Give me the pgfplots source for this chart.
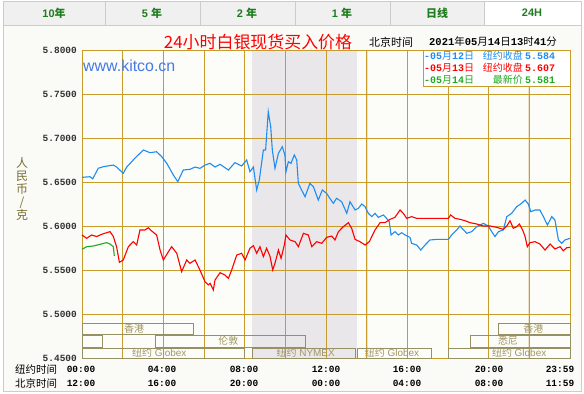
\documentclass[border=0pt]{standalone}
\usepackage{pgfplots}
\pgfplotsset{compat=1.18}
\usepackage{fontspec}
\setmainfont{Liberation Sans}
\newfontfamily\cjk{Noto Sans CJK SC}
\newfontfamily\mono{Liberation Mono}
\definecolor{gridc}{RGB}{200,155,45}
\definecolor{bl}{RGB}{30,140,240}
\definecolor{rd}{RGB}{255,0,0}
\definecolor{gr}{RGB}{30,170,30}
\definecolor{shadec}{RGB}{234,231,235}
\definecolor{sess}{RGB}{150,145,100}
\definecolor{sesst}{RGB}{160,150,100}
\definecolor{tabg}{RGB}{30,125,30}
\definecolor{panel}{RGB}{250,251,247}
\definecolor{plotbg}{RGB}{252,253,249}
\definecolor{ylab}{RGB}{120,110,50}
\definecolor{kit}{RGB}{70,120,230}
\newcommand{\M}{\mono\bfseries}
\begin{document}
\begin{tikzpicture}[x=1bp,y=1bp]
% page and panel
\fill[white] (0,0) rectangle (584,393);
\fill[panel] (3,2) rectangle (581,368);
\draw[black!20, line width=0.8] (3,2) rectangle (581,368);
% tabs
\foreach \a/\b in {3/105,105/200,200/295,295/390,390/484}{
  \fill[black!6] (\a,368) rectangle (\b,392);
  \draw[black!20, line width=0.8] (\a,368) rectangle (\b,392);
}
\fill[white] (484,368.5) rectangle (581,392);
\draw[black!20, line width=0.8] (484,368) -- (484,392) -- (581,392) -- (581,368);
\begin{scope}[font=\bfseries\fontsize{11}{12}\selectfont, text=tabg]
\node at (54,380) {10{\cjk 年}};
\node at (152,380) {5 {\cjk 年}};
\node at (247,380) {2 {\cjk 年}};
\node at (342,380) {1 {\cjk 年}};
\node at (437,380) {{\cjk 日线}};
\node at (532,380) {24H};
\end{scope}
% plot background and NY session shading
\fill[plotbg] (82,35) rectangle (570,343);
\fill[shadec] (252,35) rectangle (357,343);
\draw[gridc!28, line width=2.2bp] (366.7,35) -- (366.7,343);
\draw[gridc!28, line width=2.2bp] (529.3,35) -- (529.3,343);
\begin{axis}[
  at={(82bp,35bp)}, anchor=south west,
  width=488bp, height=308bp, scale only axis,
  xmin=0, xmax=24, ymin=5.45, ymax=5.80,
  xtick={0,2,4,6,8,10,12,14,16,18,20,22,24}, xticklabels={},
  ytick={5.45,5.50,5.55,5.60,5.65,5.70,5.75,5.80},
  yticklabels={5.4500,5.5000,5.5500,5.6000,5.6500,5.7000,5.7500,5.8000},
  yticklabel style={font=\M\fontsize{9.5}{10}\selectfont, text=black!80, inner sep=0pt, xshift=-5bp},
  major tick length=0pt,
  grid=major, grid style={gridc, line width=0.8bp},
  axis line style={gridc, line width=0.8bp},
  clip=false,
]
\addplot[bl, line width=1.1bp] coordinates {
(0,5.6553)(0.39,5.656)(0.53,5.6537)(0.80,5.6656)(1.05,5.6674)(1.54,5.6693)(1.70,5.667)
(2.03,5.6599)(2.2,5.667)(2.6,5.677)(3.02,5.6864)(3.34,5.6833)(3.67,5.6844)(3.92,5.6788)
(4.17,5.6712)(4.49,5.658)(4.71,5.6504)(4.98,5.6636)(5.31,5.6644)(5.56,5.667)(5.8,5.6655)
(6.05,5.6693)(6.3,5.6712)(6.54,5.667)(6.79,5.6701)(7.2,5.6636)(7.52,5.672)(7.85,5.6682)
(8.1,5.675)(8.26,5.6617)(8.43,5.667)(8.59,5.6409)(8.72,5.6523)(8.92,5.6864)(9.03,5.6864)
(9.16,5.7299)(9.28,5.7129)(9.36,5.6864)(9.49,5.6655)(9.66,5.6826)(9.85,5.6901)(9.98,5.6807)
(10.03,5.6617)(10.15,5.6731)(10.28,5.6712)(10.44,5.6807)(10.56,5.675)(10.64,5.6485)
(10.8,5.6409)(10.97,5.6333)(11.21,5.6485)(11.38,5.6447)(11.62,5.6295)(11.82,5.6409)
(12.03,5.6371)(12.2,5.631)(12.36,5.6258)(12.52,5.6315)(12.77,5.6276)(13.02,5.6144)
(13.18,5.6276)(13.43,5.6182)(13.59,5.6201)(13.76,5.625)(13.92,5.622)(14.08,5.6144)
(14.25,5.6106)(14.41,5.6144)(14.57,5.6098)(14.82,5.6125)(14.98,5.6087)(15.11,5.6049)
(15.2,5.5898)(15.39,5.5936)(15.56,5.5898)(15.72,5.5924)(15.89,5.5898)(16.13,5.5871)
(16.21,5.5803)(16.46,5.5784)(16.66,5.5727)(16.87,5.5784)(17.11,5.5841)(17.44,5.5848)
(18.02,5.5848)(18.18,5.5898)(18.43,5.5955)(18.59,5.6)(18.92,5.5917)(19.17,5.5936)
(19.41,5.5992)(19.74,5.603)(19.98,5.6)(20.15,5.5936)(20.31,5.588)(20.48,5.5936)
(20.72,5.5955)(20.89,5.6106)(21.13,5.6144)(21.38,5.622)(21.62,5.6258)(21.79,5.6295)
(21.95,5.625)(22.07,5.6163)(22.28,5.6182)(22.52,5.6182)(22.69,5.6106)(22.89,5.6011)
(23.1,5.6106)(23.26,5.6068)(23.43,5.5841)(23.59,5.5803)(23.75,5.5841)(24,5.586)
};
\addplot[rd, line width=1.1bp] coordinates {
(0,5.5898)(0.23,5.586)(0.47,5.5898)(0.72,5.588)(0.97,5.5906)(1.38,5.5936)(1.54,5.588)
(1.70,5.5765)(1.84,5.5587)(2.03,5.5614)(2.28,5.5765)(2.52,5.5822)(2.69,5.5784)(2.85,5.5955)
(3.1,5.5955)(3.26,5.598)(3.43,5.5943)(3.67,5.5898)(3.84,5.5727)(4.0,5.5614)(4.25,5.5708)
(4.41,5.5765)(4.66,5.569)(4.9,5.5481)(5.15,5.5614)(5.31,5.5576)(5.56,5.5614)(5.8,5.55)
(6.05,5.5367)(6.21,5.533)(6.3,5.5348)(6.46,5.5273)(6.54,5.5386)(6.79,5.5469)(7.03,5.5443)
(7.2,5.5405)(7.36,5.55)(7.61,5.567)(7.85,5.569)(8.02,5.5614)(8.26,5.5747)(8.43,5.5777)
(8.59,5.569)(8.75,5.5765)(8.92,5.5652)(9.08,5.5747)(9.25,5.5652)(9.38,5.55)(9.49,5.5576)
(9.66,5.5727)(9.79,5.5633)(9.95,5.5784)(10.03,5.5898)(10.23,5.5841)(10.48,5.5822)
(10.64,5.5765)(10.89,5.5917)(11.13,5.5898)(11.3,5.5765)(11.54,5.5822)(11.79,5.5803)
(12.03,5.5871)(12.28,5.5886)(12.44,5.5841)(12.61,5.5936)(12.85,5.5992)(13.1,5.6038)
(13.26,5.5974)(13.43,5.5848)(13.67,5.5822)(13.92,5.5784)(14.13,5.5822)(14.41,5.5955)
(14.66,5.6038)(14.9,5.6038)(15.15,5.6076)(15.39,5.6098)(15.64,5.6182)(15.8,5.6144)
(15.97,5.6087)(16.21,5.6106)(16.46,5.6087)(16.95,5.6087)(18.02,5.6087)(18.13,5.6125)
(18.35,5.6087)(18.59,5.6076)(18.84,5.606)(19.08,5.6038)(19.41,5.6023)(19.74,5.6)
(20.07,5.6)(20.39,5.5985)(20.72,5.5962)(20.89,5.6)(21.05,5.606)(21.21,5.5974)(21.38,5.5992)
(21.51,5.6023)(21.67,5.5955)(21.79,5.588)(21.9,5.5765)(22.03,5.581)(22.28,5.5822)
(22.52,5.5795)(22.77,5.5727)(23.02,5.5795)(23.26,5.5739)(23.51,5.5765)(23.67,5.5719)
(23.84,5.5753)(24,5.5758)
};
\addplot[gr, line width=1.1bp] coordinates {
(0,5.5735)(0.23,5.5765)(0.56,5.5773)(0.89,5.5792)(1.21,5.5811)(1.38,5.5795)(1.54,5.5765)(1.59,5.5659)
};
% trading session boxes
\begin{scope}[sess, line width=0.8bp]
\draw (axis cs:0,5.4773) rectangle (axis cs:5.46,5.4898);
\draw (axis cs:20.5,5.4773) rectangle (axis cs:24,5.4898);
\draw (axis cs:0,5.4625) rectangle (axis cs:1.0,5.4761);
\draw (axis cs:3.6,5.4625) rectangle (axis cs:10.97,5.4761);
\draw (axis cs:19.1,5.4625) rectangle (axis cs:24,5.4761);
\draw (axis cs:0,5.45) rectangle (axis cs:8.0,5.4614);
\draw (axis cs:8.36,5.45) rectangle (axis cs:13.45,5.4614);
\draw (axis cs:13.55,5.45) rectangle (axis cs:17.2,5.4614);
\draw (axis cs:18.0,5.45) rectangle (axis cs:24,5.4614);
\end{scope}
\begin{scope}[text=sesst, font=\fontsize{10}{10}\selectfont, inner sep=0pt]
\node at (axis cs:2.56,5.4836) {\cjk 香港};
\node at (axis cs:22.2,5.4836) {\cjk 香港};
\node at (axis cs:7.2,5.4693) {\cjk 伦敦};
\node at (axis cs:20.95,5.4693) {\cjk 悉尼};
\node at (axis cs:3.8,5.4557) {{\cjk 纽约} Globex};
\node at (axis cs:11.0,5.4557) {{\cjk 纽约} NYMEX};
\node at (axis cs:15.25,5.4557) {{\cjk 纽约} Globex};
\node at (axis cs:21.5,5.4557) {{\cjk 纽约} Globex};
\end{scope}
\end{axis}
% legend box
\draw[gridc, fill=white, line width=0.8bp] (423,307) rectangle (570,343);
\begin{scope}[font=\fontsize{10}{11}\selectfont, inner sep=0pt]
\node[anchor=west, text=bl] at (424,337) {{\M -05}{\cjk 月}{\M 12}{\cjk 日}};
\node[anchor=east, text=bl] at (523,337) {\cjk 纽约收盘};
\node[anchor=west, text=bl] at (525,337) {\M 5.584};
\node[anchor=west, text=rd] at (424,325) {{\M -05}{\cjk 月}{\M 13}{\cjk 日}};
\node[anchor=east, text=rd] at (523,325) {\cjk 纽约收盘};
\node[anchor=west, text=rd] at (525,325) {\M 5.607};
\node[anchor=west, text=gr] at (424,313) {{\M -05}{\cjk 月}{\M 14}{\cjk 日}};
\node[anchor=east, text=gr] at (523,313) {\cjk 最新价};
\node[anchor=west, text=gr] at (525,313) {\M 5.581};
\end{scope}
% title and timestamp
\node[text=rd, font=\cjk\fontsize{17}{17}\selectfont] at (258,351) {24小时白银现货买入价格};
\node[anchor=west, inner sep=0pt, font=\fontsize{11}{11}\selectfont] at (369,351) {\cjk 北京时间};
\node[anchor=west, inner sep=0pt, font=\fontsize{10.5}{11}\selectfont] at (429,351) {{\M 2021}{\cjk 年}{\M 05}{\cjk 月}{\M 14}{\cjk 日}{\M 13}{\cjk 时}{\M 41}{\cjk 分}};
% watermark
\node[anchor=west, inner sep=0pt, text=kit, font=\fontsize{16}{16}\selectfont] at (83,327) {www.kitco.cn};
% y label
\node[text=ylab, align=center, font=\cjk\fontsize{12}{13}\selectfont] at (22,204) {人\\民\\币\\/\\克};
% bottom time labels
\node[anchor=west, inner sep=0pt, font=\cjk\fontsize{10.5}{11}\selectfont] at (15,24) {纽约时间};
\node[anchor=west, inner sep=0pt, font=\cjk\fontsize{10.5}{11}\selectfont] at (15,10) {北京时间};
\begin{scope}[font=\M\fontsize{9.5}{10}\selectfont, inner sep=0pt]
\foreach \x/\a/\b in {81/00:00/12:00,162/04:00/16:00,244/08:00/20:00,326/12:00/00:00,407/16:00/04:00,489/20:00/08:00,560/23:59/11:59}{
  \node at (\x,24) {\a};
  \node at (\x,10) {\b};
}
\end{scope}
\end{tikzpicture}
\end{document}
